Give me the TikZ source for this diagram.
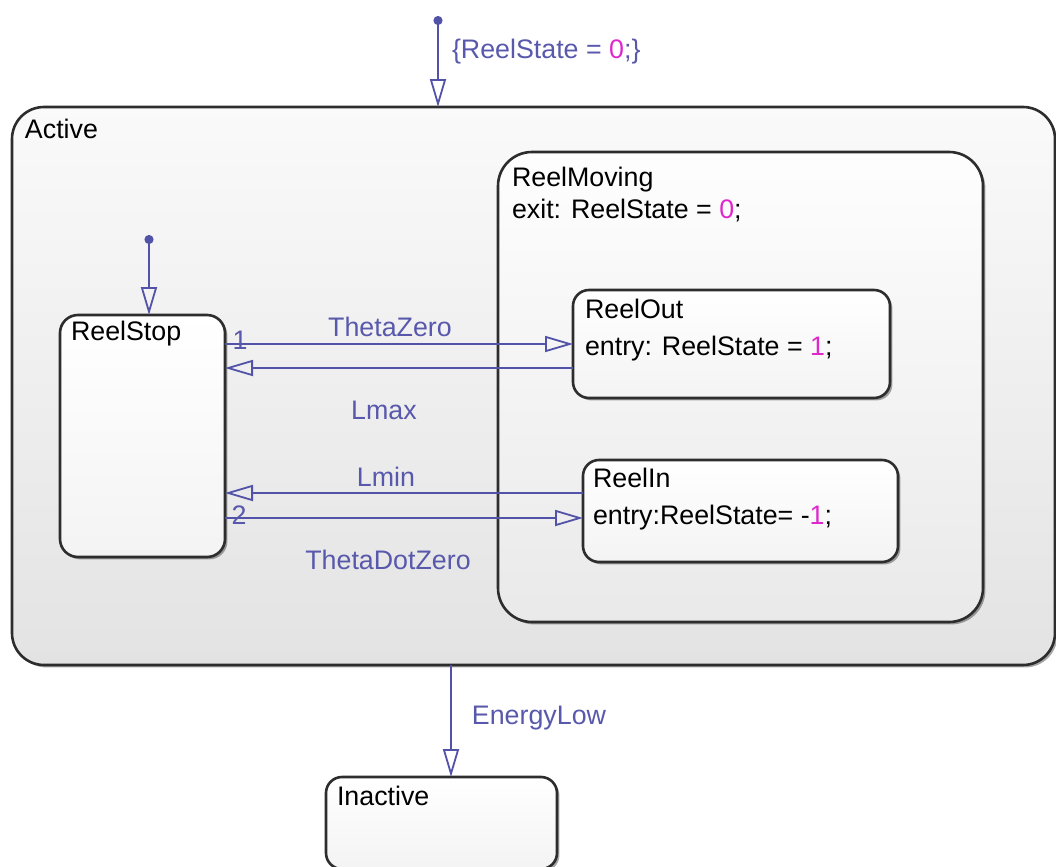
\documentclass[tikz,border=0pt]{standalone}
\usepackage{fontspec}
\setmainfont{Liberation Sans}
\usetikzlibrary{arrows.meta,shadows,calc}
\definecolor{tcol}{RGB}{82,82,168}
\definecolor{lcol}{RGB}{88,88,172}
\definecolor{mag}{RGB}{222,40,205}
\definecolor{bcol}{RGB}{45,45,45}
\begin{document}
\begin{tikzpicture}[x=0.5pt,y=-0.5pt,
  every node/.style={font=\fontsize{13.4}{16}\selectfont, inner sep=0pt, outer sep=0pt},
  statebox/.style={draw=bcol, line width=1.3pt, top color=white, bottom color=gray!12,
     drop shadow={shadow xshift=1.2pt, shadow yshift=-1.2pt, opacity=0.35, fill=black},
     anchor=north west},
  trans/.style={draw=tcol, line width=1pt, -{Triangle[open, length=14pt, width=8pt, line width=0.9pt]}},
  deftrans/.style={draw=tcol, line width=1pt, {Circle[length=4.5pt]}-{Triangle[open, length=14pt, width=8pt, line width=0.9pt]}},
  stitle/.style={anchor=base west, text=black},
  tlabel/.style={text=lcol}
]
\useasboundingbox (0,0) rectangle (1056,867);
% states
\node[statebox, rounded corners=16pt, top color=gray!4, bottom color=gray!22, minimum width=521.5pt, minimum height=279pt] (active) at (12,107) {};
\node[statebox, rounded corners=17pt, top color=gray!1, bottom color=gray!17, minimum width=242.5pt, minimum height=235pt] (reelmoving) at (498,152) {};
\node[statebox, rounded corners=9pt, bottom color=gray!9, minimum width=82.5pt, minimum height=121pt] (reelstop) at (60,315) {};
\node[statebox, rounded corners=8pt, bottom color=gray!9, minimum width=158.5pt, minimum height=54pt] (reelout) at (573,290) {};
\node[statebox, rounded corners=8pt, bottom color=gray!9, minimum width=157.5pt, minimum height=51pt] (reelin) at (583,460) {};
\node[statebox, rounded corners=8pt, bottom color=gray!9, minimum width=115.5pt, minimum height=46pt] (inactive) at (326,777) {};
% state texts
\node[stitle] (tactive) at (25,138) {Active};
\node[stitle] (tmoving) at (512,186) {ReelMoving};
\node[stitle] (tmovingexit) at (512,218) {exit: ReelState = \textcolor{mag}{0};};
\node[stitle] (tstop) at (71,340) {ReelStop};
\node[stitle] (tout) at (585,318) {ReelOut};
\node[stitle] (toutentry) at (585,355) {entry: ReelState = \textcolor{mag}{1};};
\node[stitle] (tin) at (593,487) {ReelIn};
\node[stitle] (tinentry) at (593,524) {entry:ReelState= -\textcolor{mag}{1};};
\node[stitle] (tinactive) at (337,805) {Inactive};
% default transitions
\coordinate (d1) at (438,16);
\draw[deftrans] (d1) -- (d1 |- active.north);
\node[tlabel, anchor=base west] (l0) at (452,58) {\{ReelState = \textcolor{mag}{0};\}};
\coordinate (d2) at (149,235);
\draw[deftrans] (d2) -- (d2 |- reelstop.north);
% transitions
\draw[trans] (reelstop.east |- reelout.west) -- (reelout.west);
\draw[trans] ([yshift=-12pt]reelout.west) coordinate (a1) -- (a1 -| reelstop.east);
\draw[trans] ([yshift=9pt]reelin.west) coordinate (a2) -- (a2 -| reelstop.east);
\draw[trans] ([yshift=-3.5pt]reelin.west -| reelstop.east) coordinate (a3) -- (a3 -| reelin.west);
\coordinate (e1) at (451,700);
\draw[trans] (e1 |- active.south) -- (e1 |- inactive.north);
% labels
\node[tlabel] (lthz) at (390,327) {ThetaZero};
\node[tlabel] (n1) at (240,340) {1};
\node[tlabel] (lmax) at (384,410) {Lmax};
\node[tlabel] (lmin) at (386,477) {Lmin};
\node[tlabel] (n2) at (239,515) {2};
\node[tlabel] (ltdz) at (388,560) {ThetaDotZero};
\node[tlabel] (lel) at (539,718) {EnergyLow};
\end{tikzpicture}
\end{document}
